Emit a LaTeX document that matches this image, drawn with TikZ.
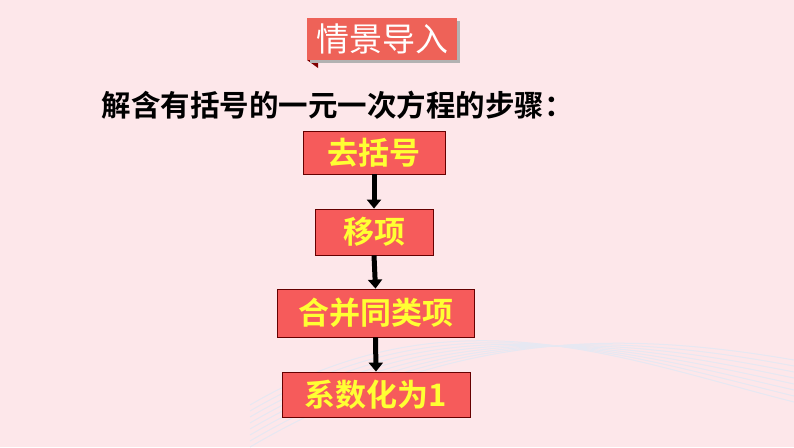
\documentclass[tikz,border=0pt]{standalone}
\usepackage{fontspec}
\newfontfamily\cjk{Noto Sans CJK SC}[BoldFont={Noto Sans CJK SC Bold}]
\definecolor{bg}{HTML}{FDE7EA}
\definecolor{boxr}{HTML}{F65B5B}
\definecolor{titr}{HTML}{EE6258}
\definecolor{ylw}{HTML}{FFFF33}
\definecolor{wave}{HTML}{E6E8F2}
\begin{document}
\begin{tikzpicture}[x=1pt,y=-1pt,
  stepbox/.style={draw=black!60!red,line width=0.8pt,fill=boxr,inner sep=0,
     font=\cjk\bfseries\fontsize{31}{31}\selectfont,text=ylw},
  arr/.style={line width=5pt,-{Triangle[length=9pt,width=14pt]}}]
\usetikzlibrary{arrows.meta}
\fill[bg] (0,0) rectangle (794,447);
\useasboundingbox (0,0) rectangle (794,447);
\foreach \i in {0,...,7}{
  \draw[wave,line width=1pt] (250,447-\i*6) .. controls (450,330-\i*6) and (620,330+\i*4) .. (794,360+\i*6);}
% title
\fill[black!50!red] (307,60) -- (318,60) -- (318,68) -- cycle;
\fill[gray!60] (310,21) rectangle (460,63);
\node[fill=titr,minimum width=150,minimum height=42,inner sep=0,anchor=north west,
  font=\cjk\fontsize{33}{33}\selectfont,text=white] (title) at (307,18) {情景导入};
\node[anchor=west,font=\cjk\bfseries\fontsize{29.5}{29.5}\selectfont] (sub) at (98,105) {解含有括号的一元一次方程的步骤：};
\node[stepbox,minimum width=142,minimum height=43] (b1) at (374,152.5) {去括号};
\node[stepbox,minimum width=118,minimum height=46] (b2) at (374,232) {移项};
\node[stepbox,minimum width=197,minimum height=48] (b3) at (375.5,313) {合并同类项};
\node[stepbox,minimum width=188,minimum height=45] (b4) at (376,394.5) {系数化为1};
\draw[arr] (b1.south) -- (b2.north);
\draw[arr] (b2.south) -- (b3.north);
\draw[arr] (b3.south) -- (b4.north);
\end{tikzpicture}
\end{document}
